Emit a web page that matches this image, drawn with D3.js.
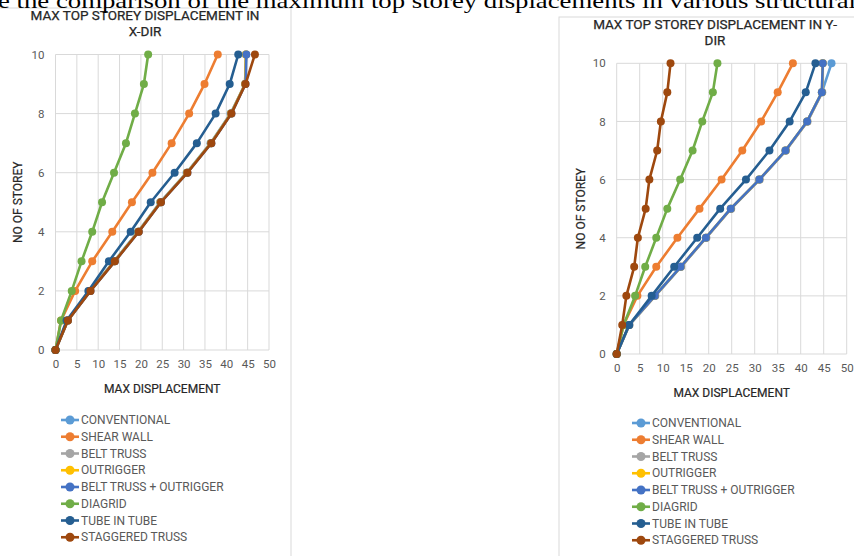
<!DOCTYPE html>
<html><head><meta charset="utf-8">
<script src="https://cdn.jsdelivr.net/npm/d3@7"></script>
<style>
html,body{margin:0;padding:0;background:#fff;overflow:hidden;}
svg{display:block;}
</style></head>
<body>
<svg id="c" width="854" height="556"></svg>
<script>
// ---- data ----
const storeys = [0,1,2,3,4,5,6,7,8,9,10];
const seriesNames = ["CONVENTIONAL","SHEAR WALL","BELT TRUSS","OUTRIGGER","BELT TRUSS + OUTRIGGER","DIAGRID","TUBE IN TUBE","STAGGERED TRUSS"];
const seriesColors = ["#5B9BD5","#ED7D31","#A5A5A5","#FFC000","#4472C4","#70AD47","#255E91","#9E480E"];
const xTicks = [0,5,10,15,20,25,30,35,40,45,50];
const yTicks = [0,2,4,6,8,10];

// X-direction displacements
const conventionalX = [0,2.8,8.0,13.7,19.3,24.5,30.7,36.3,41.0,44.4,44.6];
const shearWallX    = [0,1.3,4.6,8.6,13.3,17.9,22.7,27.2,31.3,34.9,38.0];
const beltTrussX    = [0,2.9,8.1,13.8,19.4,24.6,30.8,36.4,41.1,44.4,44.6];
const outriggerX    = [0,2.9,8.1,13.8,19.4,24.6,30.8,36.4,41.1,44.4,44.6];
const beltOutX      = [0,2.9,8.2,13.9,19.5,24.7,30.9,36.5,41.2,44.5,44.7];
const diagridX      = [0,1.3,3.8,6.1,8.6,10.9,13.7,16.5,18.6,20.7,21.7];
const tubeX         = [0,2.6,7.7,12.5,17.6,22.3,27.9,33.1,37.5,40.8,42.8];
const staggeredX    = [0,2.9,8.2,13.9,19.5,24.7,30.9,36.5,41.2,44.5,46.7];

// Y-direction displacements
const conventionalY = [0,2.7,8.3,13.9,19.4,24.8,31.0,36.7,41.4,44.6,46.7];
const shearWallY    = [0,1.5,4.5,8.6,13.2,18.0,22.8,27.3,31.4,35.0,38.3];
const beltTrussY    = [0,2.8,8.4,14.0,19.5,24.9,31.1,36.8,41.5,44.7,44.8];
const outriggerY    = [0,2.7,8.3,13.9,19.4,24.8,31.0,36.7,41.4,44.6,44.8];
const beltOutY      = [0,2.7,8.3,13.9,19.4,24.8,31.0,36.7,41.4,44.6,44.8];
const diagridY      = [0,1.5,4.0,6.2,8.6,11.0,13.8,16.5,18.6,20.9,21.9];
const tubeY         = [0,2.7,7.6,12.5,17.5,22.5,28.1,33.2,37.6,41.1,43.2];
const staggeredY    = [0,1.2,2.1,3.8,4.6,6.3,7.1,8.8,9.6,11.0,11.7];

const dataX = [conventionalX,shearWallX,beltTrussX,outriggerX,beltOutX,diagridX,tubeX,staggeredX];
const dataY = [conventionalY,shearWallY,beltTrussY,outriggerY,beltOutY,diagridY,tubeY,staggeredY];

const svg = d3.select("#c");
const FONT = "Roboto, 'Open Sans', sans-serif";

function drawChart(cfg){
  const g = svg.append("g");
  // chart frame
  g.append("rect").attr("x",cfg.box[0]).attr("y",cfg.box[1])
    .attr("width",cfg.box[2]).attr("height",cfg.box[3])
    .attr("fill","#fff").attr("stroke","#d9d9d9").attr("stroke-width",1);

  const x = d3.scaleLinear().domain([0,50]).range([cfg.x0,cfg.x1]);
  const y = d3.scaleLinear().domain([0,10]).range([cfg.y0,cfg.y1]);

  // gridlines
  g.append("g").selectAll("line").data(xTicks).join("line")
    .attr("x1",d=>x(d)).attr("x2",d=>x(d)).attr("y1",y(0)).attr("y2",y(10))
    .attr("stroke","#d9d9d9").attr("stroke-width",1);
  g.append("g").selectAll("line").data(yTicks).join("line")
    .attr("x1",x(0)).attr("x2",x(50)).attr("y1",d=>y(d)).attr("y2",d=>y(d))
    .attr("stroke","#d9d9d9").attr("stroke-width",1);

  // axes (labels only)
  const xa = g.append("g").attr("transform",`translate(0,${y(0)})`)
    .call(d3.axisBottom(x).tickValues(xTicks).tickSize(0).tickPadding(10));
  const ya = g.append("g").attr("transform",`translate(${x(0)},0)`)
    .call(d3.axisLeft(y).tickValues(yTicks).tickSize(0).tickPadding(11));
  [xa,ya].forEach(a=>{
    a.select(".domain").remove();
    a.selectAll("text").attr("font-family",FONT).attr("font-size",11.5).attr("fill","#595959");
  });

  // series
  const line = d3.line().x(d=>x(d[0])).y(d=>y(d[1]));
  cfg.data.forEach((vals,i)=>{
    const pts = vals.map((v,j)=>[v,storeys[j]]);
    g.append("path").datum(pts).attr("d",line)
      .attr("fill","none").attr("stroke",seriesColors[i]).attr("stroke-width",2.6)
      .attr("stroke-linejoin","round");
    g.append("g").selectAll("circle").data(pts).join("circle")
      .attr("cx",d=>x(d[0])).attr("cy",d=>y(d[1])).attr("r",4)
      .attr("fill",seriesColors[i]);
  });

  // title
  const t = g.append("text").attr("x",cfg.titleX).attr("text-anchor","middle")
    .attr("font-family",FONT).attr("font-size",13.5).attr("font-weight",400).attr("fill","#262626")
    .attr("stroke","#262626").attr("stroke-width",0.25);
  cfg.title.forEach((s,k)=>t.append("tspan").attr("x",cfg.titleX).attr("y",cfg.titleY+k*16).text(s));

  // axis titles
  g.append("text").attr("x",(cfg.x0+cfg.x1)/2).attr("y",cfg.y0+43).attr("text-anchor","middle")
    .attr("font-family",FONT).attr("font-size",12).attr("fill","#262626")
    .attr("stroke","#262626").attr("stroke-width",0.2)
    .text("MAX DISPLACEMENT");
  g.append("text").attr("transform",`translate(${cfg.yLabelX},${(cfg.y0+cfg.y1)/2}) rotate(-90)`)
    .attr("text-anchor","middle")
    .attr("font-family",FONT).attr("font-size",12).attr("fill","#262626")
    .attr("stroke","#262626").attr("stroke-width",0.2)
    .text("NO OF STOREY");

  // legend
  const lg = g.append("g");
  seriesNames.forEach((n,i)=>{
    const yy = cfg.legY + i*16.75;
    lg.append("line").attr("x1",cfg.legX-9).attr("x2",cfg.legX+9).attr("y1",yy).attr("y2",yy)
      .attr("stroke",seriesColors[i]).attr("stroke-width",2.6);
    lg.append("circle").attr("cx",cfg.legX).attr("cy",yy).attr("r",4.5).attr("fill",seriesColors[i]);
    lg.append("text").attr("x",cfg.legX+11).attr("y",yy+4.2)
      .attr("font-family",FONT).attr("font-size",12).attr("fill","#595959").text(n);
  });
}

drawChart({
  box:[-1,8,292,560], x0:55.5, x1:269, y0:350, y1:54.5,
  title:["MAX TOP STOREY DISPLACEMENT IN","X-DIR"], titleX:145, titleY:20,
  yLabelX:22, legX:70, legY:420, data:dataX
});
drawChart({
  box:[559,17,300,550], x0:616.7, x1:846.7, y0:354, y1:63.3,
  title:["MAX TOP STOREY DISPLACEMENT IN Y-","DIR"], titleX:715, titleY:29,
  yLabelX:585, legX:641, legY:423, data:dataY
});

// cropped caption at top (drawn last, sits above the frames)
svg.append("text").attr("x",-2).attr("y",8)
  .attr("font-family","'Liberation Serif','Times New Roman',serif")
  .attr("font-size",22).attr("fill","#000")
  .attr("textLength",858).attr("lengthAdjust","spacingAndGlyphs")
  .text("e the comparison of the maximum top storey displacements in various structural");
</script>
</body></html>
